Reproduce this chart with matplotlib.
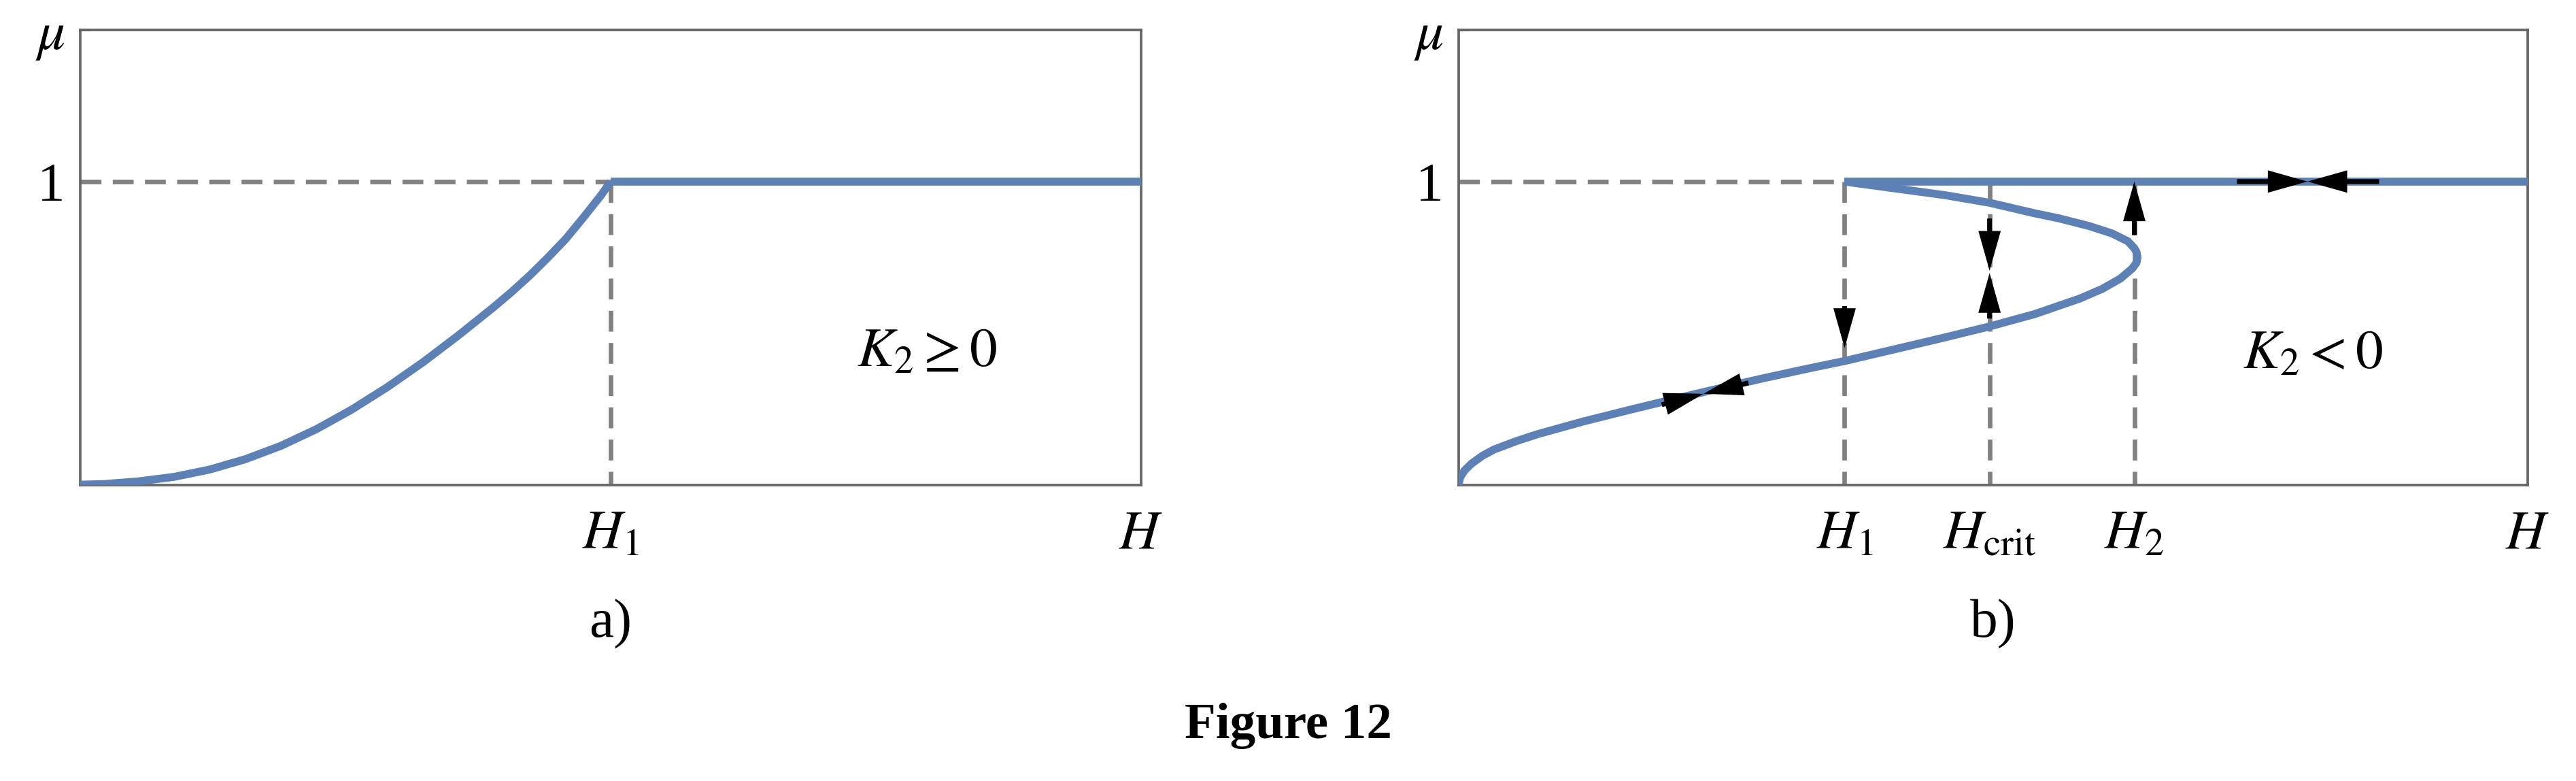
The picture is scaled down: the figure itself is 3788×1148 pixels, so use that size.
import matplotlib
matplotlib.use('Agg')
import matplotlib.pyplot as plt
from matplotlib.patches import ArrowStyle

plt.rcParams['font.family'] = ['Liberation Serif', 'DejaVu Serif']
plt.rcParams['mathtext.fontset'] = 'stix'

# ---- data ----
# panel a)  (K2 >= 0), H scaled so that H1 = 1
a_h_max = 2.0
a_h1 = 1.0
a_curve_h = [0.0, 0.043, 0.110, 0.177, 0.244, 0.311, 0.378, 0.445, 0.512, 0.579,
             0.647, 0.714, 0.781, 0.814, 0.848, 0.881, 0.915, 0.948, 0.982, 1.0]
a_curve_mu = [0.0, 0.002, 0.011, 0.026, 0.050, 0.084, 0.128, 0.183, 0.248, 0.322,
              0.405, 0.494, 0.588, 0.637, 0.691, 0.748, 0.810, 0.880, 0.955, 1.0]
a_xtick_pos = [a_h1, a_h_max]
a_xtick_lab = [r'$H_1$', r'$H$']

# panel b)  (K2 < 0), H as fraction of the axis
b_h_max = 1.0
b_h1, b_hcrit, b_h2 = 0.361, 0.4966, 0.632
b_curve_h = [0.0, 0.0013, 0.0055, 0.0118, 0.0224, 0.033, 0.054, 0.075, 0.117, 0.160,
             0.202, 0.244, 0.286, 0.328, 0.361, 0.413, 0.455, 0.4966, 0.539, 0.581,
             0.602, 0.619, 0.630, 0.634, 0.635, 0.634, 0.632, 0.626, 0.611, 0.590,
             0.561, 0.539, 0.4966, 0.455, 0.413, 0.371, 0.361]
b_curve_mu = [0.0, 0.024, 0.047, 0.069, 0.096, 0.116, 0.144, 0.168, 0.209, 0.247,
              0.283, 0.318, 0.352, 0.384, 0.408, 0.451, 0.486, 0.522, 0.563, 0.614,
              0.646, 0.680, 0.713, 0.732, 0.750, 0.768, 0.780, 0.803, 0.829, 0.853,
              0.879, 0.895, 0.930, 0.955, 0.975, 0.995, 1.0]
b_xtick_pos = [b_h1, b_hcrit, b_h2, b_h_max]
b_xtick_lab = [r'$H_1$', r'$H_{\rm crit}$', r'$H_2$', r'$H$']

# flow arrows in panel b): (tail, tip)
b_arrow_tail = [(b_h1, 0.589), (b_hcrit, 0.878), (b_hcrit, 0.548), (b_h2, 0.823),
                (0.728, 1.0), (0.861, 1.0), (0.190, 0.264), (0.271, 0.336)]
b_arrow_tip = [(b_h1, 0.451), (b_hcrit, 0.706), (b_hcrit, 0.698), (b_h2, 1.0),
               (0.794, 1.0), (0.794, 1.0), (0.229, 0.300), (0.229, 0.300)]

mu_max = 1.5
blue = '#5e81b5'
frame = '#666666'
dash_col = '#808080'
fs = 19.5
lw_curve = 2.8
lw_dash = 1.6

W, H = 3788, 1148
fig = plt.figure(figsize=(W / 300, H / 300), dpi=300)
ax_a = fig.add_axes([118 / W, 1 - 712.5 / H, 1560 / W, 668.5 / H])
ax_b = fig.add_axes([2145 / W, 1 - 712.5 / H, 1572 / W, 668.5 / H])


def setup(ax, xmax, xt, xl):
    ax.set_xlim(0, xmax)
    ax.set_ylim(0, mu_max)
    for s in ax.spines.values():
        s.set_color(frame)
        s.set_linewidth(0.9)
    ax.set_xticks(xt, xl, fontsize=fs)
    ax.set_yticks([1], ['1'], fontsize=fs)
    ax.tick_params(axis='x', length=0, pad=9.1)
    ax.tick_params(axis='y', length=0, pad=5.3)
    ax.set_xticks([xmax], minor=True)
    ax.set_yticks([mu_max], minor=True)
    ax.tick_params(which='minor', direction='in', length=3.6, width=0.7, color='k')
    ax.annotate(r'$\mu$', xy=(0, 1.437), xycoords=('axes fraction', 'data'),
                xytext=(-5.2, 0), textcoords='offset points',
                ha='right', va='baseline', fontsize=fs)


dash = (0, (4.6, 2.5))

# ---- a) ----
setup(ax_a, a_h_max, a_xtick_pos, a_xtick_lab)
ax_a.plot([0, a_h1], [1, 1], color=dash_col, lw=lw_dash, ls=dash, zorder=2)
ax_a.plot([a_h1, a_h1], [1, 0], color=dash_col, lw=lw_dash, ls=dash, zorder=2)
ax_a.plot(a_curve_h, a_curve_mu, color=blue, lw=lw_curve, zorder=3, solid_capstyle='butt')
ax_a.plot([a_h1, a_h_max], [1, 1], color=blue, lw=lw_curve, zorder=3, solid_capstyle='butt')
ax_a.text(0.798 * a_h_max, 0.392, r'$K_2 \geq 0$', ha='center', va='baseline', fontsize=fs)
ax_a.text(0.5, -0.335, 'a)', transform=ax_a.transAxes, ha='center', va='baseline', fontsize=fs)

# ---- b) ----
setup(ax_b, b_h_max, b_xtick_pos, b_xtick_lab)
ax_b.plot([0, b_h1], [1, 1], color=dash_col, lw=lw_dash, ls=dash, zorder=2)
for h in [b_h1, b_hcrit, b_h2]:
    ax_b.plot([h, h], [1, 0], color=dash_col, lw=lw_dash, ls=dash, zorder=2)
ax_b.plot(b_curve_h, b_curve_mu, color=blue, lw=lw_curve, zorder=3,
          solid_capstyle='butt', solid_joinstyle='round')
ax_b.plot([b_h1, b_h_max], [1, 1], color=blue, lw=lw_curve, zorder=3, solid_capstyle='butt')

style = ArrowStyle.Simple(head_length=14.0, head_width=7.9, tail_width=1.7)
for tail, tip in zip(b_arrow_tail, b_arrow_tip):
    ax_b.annotate('', xy=tip, xytext=tail,
                  arrowprops=dict(arrowstyle=style, color='k', lw=0, shrinkA=0, shrinkB=0,
                                  mutation_scale=1), zorder=5)

ax_b.text(0.799, 0.385, r'$K_2 < 0$', ha='center', va='baseline', fontsize=fs)
ax_b.text(0.5, -0.335, 'b)', transform=ax_b.transAxes, ha='center', va='baseline', fontsize=fs)

fig.text(0.5, 1 - 1085 / H, 'Figure 12', ha='center', va='baseline', fontsize=18, weight='bold')

fig.savefig('out.png', dpi=300)
